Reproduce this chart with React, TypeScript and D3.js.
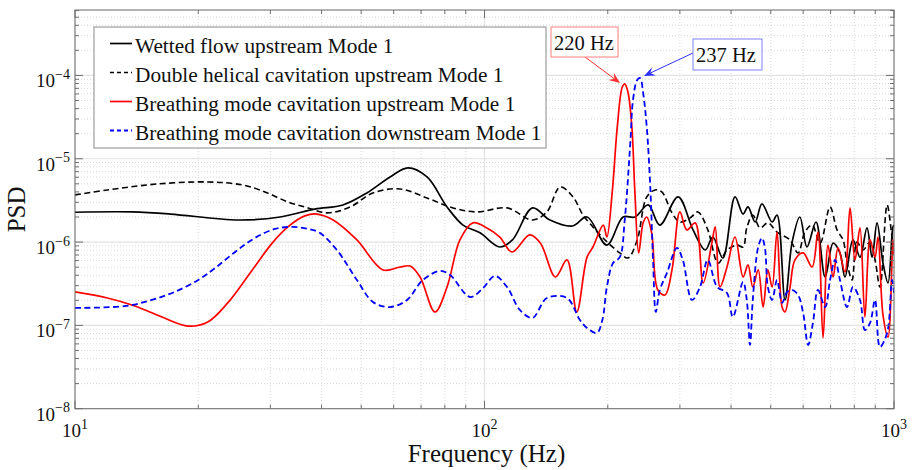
import React from 'react';
import * as d3 from 'd3';

// ---------- DATA (frequency in Hz, PSD) ----------
const wettedFreq = [10, 13.8, 17.1, 25.0, 31.7, 38.5, 45.1, 51.6, 58.8, 65.0, 72.4, 81.0, 88.6, 97.5, 109, 117, 131, 144.5, 164, 178, 199, 218, 233, 251, 268, 297, 323, 346, 361, 382, 409, 428, 440, 458, 476, 504, 518, 542, 564, 589, 613, 645, 679, 710, 738, 759, 794, 826, 859, 884, 909, 940, 967, 994, 1000];
const wettedPsd = [2.28e-6, 2.3e-6, 2.17e-6, 1.84e-6, 2.0e-6, 2.49e-6, 2.79e-6, 3.89e-6, 6.05e-6, 7.78e-6, 6.05e-6, 2.64e-6, 1.6e-6, 1.29e-6, 8.73e-7, 1.06e-6, 2.57e-6, 1.84e-6, 1.56e-6, 2.0e-6, 9.2e-7, 2.0e-6, 2.0e-6, 2.79e-6, 1.6e-6, 3.48e-6, 1.4e-6, 8.03e-7, 1.15e-6, 6.44e-7, 3.48e-6, 2.17e-6, 2.64e-6, 1.74e-6, 2.87e-6, 1.74e-6, 2.11e-6, 2.02e-7, 1.0e-6, 2.0e-6, 8.73e-7, 1.74e-6, 3.81e-7, 9.7e-7, 7.4e-7, 3.81e-7, 1.06e-6, 6.6e-7, 1.48e-6, 6.6e-7, 1.7e-6, 5.6e-7, 3.23e-7, 1.52e-6, 1.6e-6];

const helicalFreq = [10, 12.0, 15.9, 21.1, 25.6, 29.1, 33.1, 37.1, 41.3, 47.0, 53.4, 62.2, 72.4, 83.8, 95.9, 113.5, 131, 142, 153, 164.5, 174, 184, 197, 214, 224, 236, 249, 261, 271, 287, 300, 318, 332, 351, 372, 391, 414, 428, 437, 452, 471, 492, 518, 557, 583, 606, 631, 660, 698, 726, 751, 768, 790, 812, 840, 874, 899, 924, 962, 989, 1000];
const helicalPsd = [3.68e-6, 4.22e-6, 4.98e-6, 5.27e-6, 4.85e-6, 4.0e-6, 3.03e-6, 2.57e-6, 2.24e-6, 2.64e-6, 3.89e-6, 4.34e-6, 3.38e-6, 2.57e-6, 2.3e-6, 2.57e-6, 1.84e-6, 2.3e-6, 4.59e-6, 3.48e-6, 2.11e-6, 1.52e-6, 1.06e-6, 7.4e-7, 6.44e-7, 1.06e-6, 3.48e-6, 4.22e-6, 4.0e-6, 2.24e-6, 1.74e-6, 1.95e-6, 2.3e-6, 1.4e-6, 5.6e-7, 8.03e-7, 9.2e-7, 8.73e-7, 1.48e-6, 2.11e-6, 1.48e-6, 1.7e-6, 1.32e-6, 1.06e-6, 7.4e-7, 1.32e-6, 1.6e-6, 9.7e-7, 2.64e-6, 1.4e-6, 1.06e-6, 5.6e-7, 3.51e-7, 1.0e-6, 8.03e-7, 1.0e-6, 6.1e-7, 2.89e-7, 2.79e-6, 1.15e-6, 8e-7];

const breathUpFreq = [10, 12.0, 14.0, 16.3, 18.9, 21.1, 23.6, 27.1, 30.3, 33.1, 36.4, 39.0, 42.7, 48.8, 56.5, 62.2, 65.8, 69.6, 75.7, 81.0, 87.1, 93.7, 101.4, 109, 116.7, 129, 137, 149, 159, 168, 178, 184, 195, 199, 205, 211, 217, 220, 224, 229, 233, 238, 244, 249, 256, 265, 276, 287, 300, 312, 327, 342, 359, 366, 376, 391, 409, 428, 440, 452, 466, 479, 492, 504, 518, 533, 542, 557, 573, 600, 631, 652, 671, 690, 710, 730, 759, 781, 803, 826, 849, 874, 899, 914, 940, 967, 994, 1000];
const breathUpPsd = [2.52e-7, 2.13e-7, 1.71e-7, 1.26e-7, 9.8e-8, 1.1e-7, 1.86e-7, 4.63e-7, 9.7e-7, 1.52e-6, 2.06e-6, 2.17e-6, 1.84e-6, 1.06e-6, 4.63e-7, 5.02e-7, 5.15e-7, 3.81e-7, 1.45e-7, 2.89e-7, 1.06e-6, 1.7e-6, 1.48e-6, 1.15e-6, 7.6e-7, 1.22e-6, 9.7e-7, 3.81e-7, 6.1e-7, 1.45e-7, 6.6e-7, 8.73e-7, 1.6e-6, 1.15e-6, 3.89e-6, 2.41e-5, 7.27e-5, 7.9e-5, 6.33e-5, 2.41e-5, 3.89e-6, 7.4e-7, 1.7e-6, 2.0e-6, 1.29e-6, 2.66e-7, 2.32e-7, 4.63e-7, 2.3e-6, 1.4e-6, 1.7e-6, 3.23e-7, 9.7e-7, 1.52e-6, 2.89e-7, 5.02e-7, 1.15e-6, 3.81e-7, 5.31e-7, 2.89e-7, 4.63e-7, 1.66e-7, 4.63e-7, 2.89e-7, 1.32e-6, 1.66e-7, 1.45e-7, 2.81e-7, 6.1e-7, 7.4e-7, 5.02e-7, 1.32e-6, 7.06e-8, 9.2e-7, 3.81e-7, 8.5e-7, 4.38e-7, 2.57e-6, 6.1e-7, 1.48e-6, 1.26e-7, 1.06e-6, 6.6e-7, 1.15e-6, 1.33e-7, 7.25e-8, 1.06e-6, 7.0e-7];

const breathDownFreq = [10, 13.3, 15.4, 17.5, 20.0, 22.0, 24.6, 27.5, 30.8, 33.9, 37.1, 39.6, 43.6, 48.8, 53.4, 58.8, 64.7, 70.7, 77.9, 82.4, 92.2, 99.2, 106, 113.5, 122, 131, 142, 159, 171, 178, 188, 194, 199, 206, 214, 220, 227, 230.5, 236, 240, 244, 249, 254, 258, 262, 268, 279, 295, 305, 321, 336, 351, 370, 391, 404, 428, 437, 445, 452, 466, 476, 484, 492, 504, 518, 533, 548, 564, 583, 600, 617, 634, 652, 679, 698, 718, 738, 768, 794, 826, 849, 874, 899, 924, 962, 989, 1000];
const breathDownPsd = [1.62e-7, 1.71e-7, 2.02e-7, 2.52e-7, 3.51e-7, 4.89e-7, 7.6e-7, 1.12e-6, 1.44e-6, 1.52e-6, 1.44e-6, 1.29e-6, 8.03e-7, 3.51e-7, 1.91e-7, 1.66e-7, 2.02e-7, 3.51e-7, 4.5e-7, 4.03e-7, 2.19e-7, 2.81e-7, 3.92e-7, 2.89e-7, 1.53e-7, 1.23e-7, 2.13e-7, 2.13e-7, 1.16e-7, 9.3e-8, 8.1e-8, 1.16e-7, 2.89e-7, 5.6e-7, 6.6e-7, 1.84e-6, 1.55e-5, 5.08e-5, 8.83e-5, 9.3e-5, 6.17e-5, 2.41e-5, 4.59e-6, 6.1e-7, 1.45e-7, 2.66e-7, 4.26e-7, 8.5e-7, 6.1e-7, 2.02e-7, 2.89e-7, 6.1e-7, 2.89e-7, 2.45e-7, 1.26e-7, 3.32e-7, 2.02e-7, 5.82e-8, 2.02e-7, 8.73e-7, 1.12e-6, 8.5e-7, 2.89e-7, 2.02e-7, 3.51e-7, 1.86e-7, 2.52e-7, 2.66e-7, 2.32e-7, 1.41e-7, 5.82e-8, 1.07e-7, 2.66e-7, 1.66e-7, 3.51e-7, 6.1e-7, 3.51e-7, 1.66e-7, 2.89e-7, 2.02e-7, 8.81e-8, 1.07e-7, 2.02e-7, 5.5e-8, 8.1e-8, 3.51e-7, 2.45e-7];

const seriesLabels = [
  'Wetted flow upstream Mode 1',
  'Double helical cavitation upstream Mode 1',
  'Breathing mode cavitation upstream Mode 1',
  'Breathing mode cavitation downstream Mode 1',
];
const xTickExponents = [1, 2, 3];
const yTickExponents = [-8, -7, -6, -5, -4];
const peakLabels = ['220 Hz', '237 Hz'];

// ---------- LAYOUT ----------
const W = 912;
const H = 470;
const PL = 75, PR = 894, PT = 10, PB = 408.7;
const FONT = '"Liberation Serif", "Times New Roman", Times, serif';

const x = d3.scaleLog().domain([10, 1000]).range([PL, PR]);
const y = d3.scaleLog().domain([1e-8, 6.1e-4]).range([PB, PT]);

const lineGen = d3
  .line<[number, number]>()
  .x((d) => x(d[0]))
  .y((d) => y(d[1]))
  .curve(d3.curveCatmullRom.alpha(0.5));

const zip = (f: number[], p: number[]) => f.map((v, i) => [v, p[i]] as [number, number]);

const series = [
  { data: zip(wettedFreq, wettedPsd), color: '#000000', dash: undefined, width: 1.7 },
  { data: zip(helicalFreq, helicalPsd), color: '#000000', dash: '6,3.5', width: 1.6 },
  { data: zip(breathUpFreq, breathUpPsd), color: '#ff0000', dash: undefined, width: 1.7 },
  { data: zip(breathDownFreq, breathDownPsd), color: '#0000ff', dash: '6,3.5', width: 1.8 },
];

const xMajor = xTickExponents.map((e) => Math.pow(10, e));
const xMinor: number[] = [];
[10, 100].forEach((b) => {
  for (let m = 2; m <= 9; m++) xMinor.push(m * b);
});
const yMajor = yTickExponents.map((e) => Math.pow(10, e));
const yMinor: number[] = [];
[1e-8, 1e-7, 1e-6, 1e-5, 1e-4].forEach((b) => {
  for (let m = 2; m <= 9; m++) {
    const v = m * b;
    if (v < 6.1e-4) yMinor.push(v);
  }
});

function Arrow({ x1, y1, x2, y2, color }: { x1: number; y1: number; x2: number; y2: number; color: string }) {
  const ang = Math.atan2(y2 - y1, x2 - x1);
  const L = 11, Wd = 4.5, notch = 7;
  const bx = x2 - L * Math.cos(ang), by = y2 - L * Math.sin(ang);
  const nx = x2 - notch * Math.cos(ang), ny = y2 - notch * Math.sin(ang);
  const px = -Math.sin(ang), py = Math.cos(ang);
  const pts = [
    [x2, y2],
    [bx + Wd * px, by + Wd * py],
    [nx, ny],
    [bx - Wd * px, by - Wd * py],
  ];
  return (
    <g>
      <line x1={x1} y1={y1} x2={nx} y2={ny} stroke={color} strokeWidth={1} />
      <polygon points={pts.map((p) => p.join(',')).join(' ')} fill={color} />
    </g>
  );
}

export default function App() {
  const axisColor = '#6e6e6e';
  return (
    <svg
      width={W}
      height={H}
      viewBox={`0 0 ${W} ${H}`}
      style={{ position: 'absolute', left: 0, top: 0, background: '#ffffff', display: 'block' }}
      fontFamily={FONT}
    >
      <rect x={0} y={0} width={W} height={H} fill="#ffffff" />
      <defs>
        <clipPath id="plotClip">
          <rect x={PL} y={PT} width={PR - PL} height={PB - PT} />
        </clipPath>
      </defs>

      {/* minor grid */}
      {xMinor.map((v) => (
        <line key={'gxm' + v} x1={x(v)} x2={x(v)} y1={PT} y2={PB} stroke="#cfcfcf" strokeWidth={0.8} strokeDasharray="1,2" />
      ))}
      {yMinor.map((v) => (
        <line key={'gym' + v} x1={PL} x2={PR} y1={y(v)} y2={y(v)} stroke="#cfcfcf" strokeWidth={0.8} strokeDasharray="1,2" />
      ))}
      {/* major grid */}
      {xMajor.map((v) => (
        <line key={'gx' + v} x1={x(v)} x2={x(v)} y1={PT} y2={PB} stroke="#e2e2e2" strokeWidth={1.2} />
      ))}
      {yMajor.map((v) => (
        <line key={'gy' + v} x1={PL} x2={PR} y1={y(v)} y2={y(v)} stroke="#e2e2e2" strokeWidth={1.2} />
      ))}

      {/* data */}
      <g clipPath="url(#plotClip)">
        {series.map((s, i) => (
          <path
            key={i}
            d={lineGen(s.data) || ''}
            fill="none"
            stroke={s.color}
            strokeWidth={s.width}
            strokeDasharray={s.dash}
            strokeLinejoin="round"
          />
        ))}
      </g>

      {/* axes box */}
      <rect x={PL} y={PT} width={PR - PL} height={PB - PT} fill="none" stroke={axisColor} strokeWidth={1} />
      {/* ticks */}
      {xMajor.map((v) => (
        <g key={'tx' + v}>
          <line x1={x(v)} x2={x(v)} y1={PB} y2={PB - 8} stroke={axisColor} />
          <line x1={x(v)} x2={x(v)} y1={PT} y2={PT + 8} stroke={axisColor} />
        </g>
      ))}
      {xMinor.map((v) => (
        <g key={'txm' + v}>
          <line x1={x(v)} x2={x(v)} y1={PB} y2={PB - 4} stroke={axisColor} />
          <line x1={x(v)} x2={x(v)} y1={PT} y2={PT + 4} stroke={axisColor} />
        </g>
      ))}
      {yMajor.map((v) => (
        <g key={'ty' + v}>
          <line x1={PL} x2={PL + 8} y1={y(v)} y2={y(v)} stroke={axisColor} />
          <line x1={PR} x2={PR - 8} y1={y(v)} y2={y(v)} stroke={axisColor} />
        </g>
      ))}
      {yMinor.map((v) => (
        <g key={'tym' + v}>
          <line x1={PL} x2={PL + 4} y1={y(v)} y2={y(v)} stroke={axisColor} />
          <line x1={PR} x2={PR - 4} y1={y(v)} y2={y(v)} stroke={axisColor} />
        </g>
      ))}

      {/* tick labels */}
      {xTickExponents.map((e) => (
        <text key={'xl' + e} x={x(Math.pow(10, e))} y={437} textAnchor="middle" fontSize={19} fill="#111">
          <tspan>10</tspan>
          <tspan dy={-8.5} fontSize={14}>{String(e)}</tspan>
        </text>
      ))}
      {yTickExponents.map((e) => (
        <text key={'yl' + e} x={70} y={y(Math.pow(10, e)) + 12} textAnchor="end" fontSize={19} fill="#111">
          <tspan>10</tspan>
          <tspan dy={-8.5} fontSize={14}>{'\u2212' + String(Math.abs(e))}</tspan>
        </text>
      ))}

      {/* axis titles */}
      <text x={(PL + PR) / 2 + 2} y={462} textAnchor="middle" fontSize={25} fill="#111">
        Frequency (Hz)
      </text>
      <text transform={`translate(25, ${(PT + PB) / 2}) rotate(-90)`} textAnchor="middle" fontSize={25} fill="#111">
        PSD
      </text>

      {/* legend */}
      <rect x={94} y={27} width={452} height={121} fill="#ffffff" stroke="#8a8a8a" strokeWidth={1} />
      {series.map((s, i) => {
        const ly = 43.5 + i * 29;
        return (
          <g key={'lg' + i}>
            <line x1={110} x2={132} y1={ly} y2={ly} stroke={s.color} strokeWidth={s.width} strokeDasharray={s.dash ? '4,3' : undefined} />
            <text x={135} y={ly + 9.5} fontSize={21.3} fill="#111">
              {seriesLabels[i]}
            </text>
          </g>
        );
      })}

      {/* annotations */}
      <Arrow x1={585} y1={57} x2={620} y2={83} color="#ff3030" />
      <rect x={551} y={27} width={67} height={30} fill="#ffffff" stroke="#ff8080" strokeWidth={1} />
      <text x={554} y={49.5} fontSize={20.5} fill="#111">{peakLabels[0]}</text>

      <Arrow x1={693} y1={53} x2={644} y2={76} color="#3030ff" />
      <rect x={693} y={39} width={69} height={31} fill="#ffffff" stroke="#8080ff" strokeWidth={1} />
      <text x={696} y={62} fontSize={20.5} fill="#111">{peakLabels[1]}</text>
    </svg>
  );
}
